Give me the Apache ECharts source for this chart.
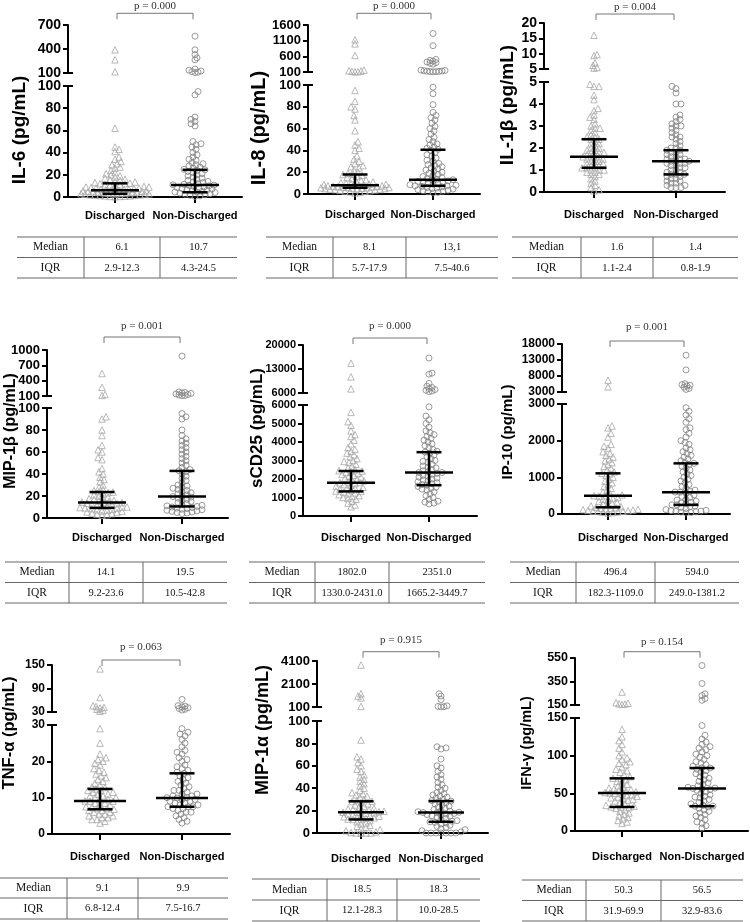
<!DOCTYPE html>
<html>
<head>
<meta charset="utf-8">
<script src="https://cdn.jsdelivr.net/npm/echarts@6/dist/echarts.min.js"></script>
<style>
  html, body { margin: 0; padding: 0; background: #fff; }
  #chart { width: 750px; height: 922px; }
</style>
</head>
<body>
<div id="chart"></div>
<script>
// ---- data ----
const groups = ['Discharged', 'Non-Discharged'];
const titles = ['IL-6 (pg/mL)', 'IL-8 (pg/mL)', 'IL-1β (pg/mL)', 'MIP-1β (pg/mL)', 'sCD25 (pg/mL)',
  'IP-10 (pg/mL)', 'TNF-α (pg/mL)', 'MIP-1α (pg/mL)', 'IFN-γ (pg/mL)'];
const pValues = ['0.000', '0.000', '0.004', '0.001', '0.000', '0.001', '0.063', '0.915', '0.154'];
const breaks = [100, 100, 5, 100, 6000, 3000, 30, 100, 150];
const upperTicks = [
  [100, 400, 700], [100, 600, 1100, 1600], [5, 10, 15, 20], [100, 400, 700, 1000], [6000, 13000, 20000],
  [3000, 8000, 13000, 18000], [30, 90, 150], [100, 2100, 4100], [150, 350, 550]
];
const lowerTicks = [
  [0, 20, 40, 60, 80, 100], [0, 20, 40, 60, 80, 100], [0, 1, 2, 3, 4, 5], [0, 20, 40, 60, 80, 100],
  [0, 1000, 2000, 3000, 4000, 5000, 6000], [0, 1000, 2000, 3000], [0, 10, 20, 30], [0, 20, 40, 60, 80, 100],
  [0, 50, 100, 150]
];
const medianLabels = [
  ['6.1', '10.7'], ['8.1', '13,1'], ['1.6', '1.4'], ['14.1', '19.5'], ['1802.0', '2351.0'],
  ['496.4', '594.0'], ['9.1', '9.9'], ['18.5', '18.3'], ['50.3', '56.5']
];
const iqrLabels = [
  ['2.9-12.3', '4.3-24.5'], ['5.7-17.9', '7.5-40.6'], ['1.1-2.4', '0.8-1.9'], ['9.2-23.6', '10.5-42.8'],
  ['1330.0-2431.0', '1665.2-3449.7'], ['182.3-1109.0', '249.0-1381.2'], ['6.8-12.4', '7.5-16.7'],
  ['12.1-28.3', '10.0-28.5'], ['31.9-69.9', '32.9-83.6']
];

const il6Discharged = [390, 265, 115, 62, 45, 43, 41, 36, 34, 32, 30, 29, 27, 26, 24, 22, 21, 20, 19, 18, 17, 16, 15.5, 15, 14, 13.5, 13, 12.5, 12, 12, 11, 11, 10.5, 10, 9.5, 9, 9, 8.5, 8, 8, 7.5, 7, 7, 6.5, 6.5, 6.1, 6, 6, 5.5, 5.5, 5, 5, 4.8, 4.5, 4.3, 4, 4, 3.8, 3.5, 3.3, 3, 3, 2.9, 2.8, 2.5, 2.3, 2, 2, 1.8, 1.5, 1.3, 1, 1, 0.8, 0.5, 0.5, 0.3];
const il6NonDischarged = [560, 390, 330, 290, 265, 150, 135, 125, 118, 110, 105, 95, 92, 72, 70, 68, 66, 64, 50, 48, 47, 45, 43, 40, 38, 36, 34, 33, 31, 30, 29, 28, 27, 26, 25, 24.5, 24, 23, 22, 21, 20, 19, 18, 17, 16, 15, 14, 13.5, 13, 12, 11.5, 11, 10.7, 10.5, 10, 9.5, 9, 8.5, 8, 7.5, 7, 6.5, 6, 5.5, 5, 4.5, 4.3, 4, 3.5, 3, 2.5, 2, 1.5, 1, 0.5];
const il8Discharged = [1130, 1000, 630, 160, 140, 130, 120, 110, 105, 95, 85, 80, 78, 72, 68, 58, 48, 45, 42, 40, 35, 32, 30, 28, 26, 25, 24, 22, 20, 19, 18, 17.9, 17, 16, 15, 14, 13, 12.5, 12, 11, 10.5, 10, 9.5, 9, 9, 8.5, 8.1, 8, 8, 7.5, 7.5, 7, 7, 6.8, 6.5, 6.3, 6, 6, 5.8, 5.7, 5.5, 5.3, 5, 5, 4.8, 4.5, 4.2, 4, 3.8, 3.5, 3, 2.8, 2.5, 2, 1.5, 1];
const il8NonDischarged = [1330, 940, 500, 470, 450, 420, 400, 380, 350, 160, 150, 140, 130, 125, 120, 115, 110, 105, 98, 92, 82, 75, 72, 70, 68, 65, 62, 60, 58, 55, 52, 50, 48, 46, 45, 43, 42, 41, 40, 38, 36, 35, 33, 31, 30, 28, 27, 26, 25, 24, 23, 22, 21, 20, 19, 18, 17, 16, 15, 14, 13.5, 13.1, 13, 12, 11.5, 11, 10.5, 10, 9.5, 9, 8.5, 8, 7.5, 7.5, 7, 6.5, 6, 5.5, 5, 4.5, 4, 3.5, 3, 2.5, 2, 1.5, 1];
const il1bDischarged = [16, 9.7, 9.4, 7, 6.2, 5.5, 5.3, 4.9, 4.8, 4.8, 4.4, 4.2, 3.8, 3.7, 3.5, 3.4, 3.3, 3.1, 3.0, 2.9, 2.9, 2.8, 2.7, 2.6, 2.5, 2.5, 2.4, 2.4, 2.3, 2.2, 2.2, 2.1, 2.0, 2.0, 1.9, 1.9, 1.8, 1.8, 1.8, 1.7, 1.7, 1.6, 1.6, 1.6, 1.5, 1.5, 1.5, 1.4, 1.4, 1.3, 1.3, 1.3, 1.2, 1.2, 1.1, 1.1, 1.1, 1.0, 1.0, 1.0, 0.9, 0.9, 0.8, 0.8, 0.7, 0.6, 0.5, 0.4, 0.3, 0.2, 0.1, 0.05];
const il1bNonDischarged = [4.8, 4.7, 4.5, 4.0, 4.0, 3.5, 3.4, 3.3, 3.2, 3.1, 3.0, 3.0, 2.9, 2.8, 2.7, 2.6, 2.5, 2.5, 2.4, 2.3, 2.2, 2.1, 2.0, 2.0, 1.9, 1.9, 1.8, 1.8, 1.7, 1.7, 1.6, 1.6, 1.5, 1.5, 1.5, 1.4, 1.4, 1.4, 1.3, 1.3, 1.3, 1.2, 1.2, 1.1, 1.1, 1.0, 1.0, 0.9, 0.9, 0.8, 0.8, 0.8, 0.7, 0.7, 0.6, 0.6, 0.5, 0.5, 0.4, 0.4, 0.3, 0.3, 0.2, 0.2, 0.2];
const mip1bDischarged = [540, 270, 130, 110, 92, 90, 80, 75, 66, 62, 60, 55, 53, 45, 42, 40, 37, 35, 33, 30, 28, 26, 25, 24, 23.6, 23, 22, 21, 20, 19, 18, 17.5, 17, 16, 15.5, 15, 14.5, 14.1, 14, 13.5, 13, 12.5, 12, 11.5, 11, 10.5, 10, 10, 9.5, 9.2, 9, 8.5, 8, 7.5, 7, 6.5, 6, 5.5, 5, 4.5, 4, 3.5, 3, 2.5];
const mip1bNonDischarged = [880, 180, 170, 160, 150, 140, 130, 120, 110, 105, 95, 92, 90, 80, 75, 72, 70, 68, 66, 64, 62, 60, 58, 56, 54, 52, 50, 48, 46, 44, 43, 42, 40, 38, 36, 34, 32, 30, 29, 28, 27, 26, 25, 24, 23, 22, 21, 20, 19.5, 19, 18, 17, 16, 15, 14, 13, 12, 11.5, 11, 10.5, 10, 9.5, 9, 8.5, 8, 7.5, 7, 6.5, 6, 5.5, 5, 4.5, 4];
const scd25Discharged = [14700, 10700, 7200, 5600, 5100, 4900, 4600, 4400, 4300, 4100, 3900, 3700, 3600, 3500, 3400, 3300, 3200, 3100, 3000, 2950, 2900, 2800, 2700, 2600, 2500, 2450, 2430, 2400, 2350, 2300, 2250, 2200, 2150, 2100, 2050, 2000, 1950, 1900, 1850, 1800, 1800, 1750, 1700, 1650, 1600, 1550, 1500, 1500, 1450, 1400, 1350, 1330, 1300, 1250, 1200, 1150, 1100, 1050, 1000, 950, 900, 800, 700, 600, 500];
const scd25NonDischarged = [16200, 11800, 11500, 8800, 8000, 7600, 7300, 7000, 6800, 6600, 6400, 5900, 5400, 5200, 5000, 4800, 4600, 4500, 4400, 4300, 4200, 4100, 4000, 3900, 3800, 3700, 3600, 3500, 3450, 3400, 3300, 3200, 3100, 3000, 2950, 2900, 2800, 2700, 2650, 2600, 2500, 2450, 2400, 2350, 2350, 2300, 2250, 2200, 2150, 2100, 2050, 2000, 1950, 1900, 1850, 1800, 1750, 1700, 1665, 1600, 1550, 1500, 1450, 1400, 1300, 1200, 1100, 1000, 900, 800, 750, 700, 650];
const ip10Discharged = [6700, 4600, 2400, 2350, 2200, 2100, 1900, 1850, 1800, 1700, 1650, 1600, 1550, 1500, 1450, 1400, 1350, 1300, 1250, 1200, 1150, 1109, 1100, 1050, 1000, 950, 900, 850, 800, 750, 700, 650, 600, 560, 520, 500, 496, 480, 450, 420, 400, 380, 350, 320, 300, 280, 250, 220, 200, 182, 170, 160, 150, 140, 130, 120, 110, 100, 90, 80, 75, 70, 60, 50, 40, 30];
const ip10NonDischarged = [14500, 9900, 5600, 5300, 5100, 4900, 4500, 4100, 3800, 2900, 2800, 2700, 2600, 2500, 2350, 2300, 2200, 2100, 2000, 1950, 1900, 1800, 1750, 1700, 1650, 1600, 1550, 1500, 1450, 1400, 1381, 1350, 1300, 1250, 1200, 1150, 1100, 1050, 1000, 950, 900, 850, 800, 750, 700, 650, 620, 600, 594, 560, 520, 480, 450, 400, 380, 350, 320, 300, 280, 250, 249, 220, 200, 180, 150, 120, 100, 90, 80, 70, 60, 50, 40, 30];
const tnfaDischarged = [140, 67, 46, 44, 42, 40, 37, 35, 32, 29, 25, 22, 21, 20.5, 20, 19.5, 19, 18, 17.5, 17, 16.5, 16, 15.5, 15, 14.5, 14, 13.5, 13, 12.8, 12.4, 12, 12, 11.5, 11.5, 11, 11, 10.5, 10.5, 10, 10, 9.5, 9.5, 9.1, 9, 9, 8.5, 8.5, 8, 8, 7.5, 7.5, 7, 7, 6.8, 6.5, 6.5, 6, 6, 5.5, 5.5, 5, 5, 4.5, 4.5, 4, 4, 3.5, 3];
const tnfaNonDischarged = [62, 46, 45, 43, 41, 39, 37, 35, 29, 28, 27.5, 27, 26, 25, 24, 23, 22.5, 22, 21, 20.5, 20, 19, 18.5, 18, 17.5, 17, 16.7, 16, 15.5, 15, 14.5, 14, 13.5, 13, 12.5, 12, 12, 11.5, 11, 11, 10.5, 10.5, 10, 10, 9.9, 9.5, 9.5, 9, 9, 8.5, 8.5, 8, 8, 7.5, 7.5, 7.5, 7, 7, 6.5, 6, 6, 5.5, 5, 4.5, 4, 3.5, 3];
const mip1aDischarged = [3750, 1250, 1050, 900, 150, 83, 68, 66, 63, 60, 57, 55, 52, 50, 48, 46, 44, 42, 40, 38, 36, 35, 34, 33, 32, 30, 29, 28.3, 28, 27, 26, 25, 24, 23, 22, 21.5, 21, 20.5, 20, 19.5, 19, 18.5, 18.5, 18, 17.5, 17, 16.5, 16, 15.5, 15, 14.5, 14, 13.5, 13, 12.5, 12.1, 12, 11, 10, 9, 8, 7, 6, 5, 4, 3, 2, 1, 0.5, 0, 0, 0, 0];
const mip1aNonDischarged = [1250, 1050, 750, 200, 150, 130, 110, 77, 76, 75, 66, 60, 58, 55, 52, 50, 48, 45, 43, 41, 40, 38, 36, 35, 34, 33, 32, 31, 30, 29, 28.5, 28, 27, 26, 25, 24, 23, 22, 21, 20, 19.5, 19, 18.5, 18.3, 18, 17.5, 17, 16.5, 16, 15.5, 15, 14, 13, 12, 11, 10.5, 10, 9.5, 9, 8, 7, 6, 5, 4, 3, 2, 1, 0, 0, 0, 0, 0, 0, 0];
const ifngDischarged = [260, 170, 165, 160, 158, 155, 135, 125, 120, 115, 110, 105, 100, 97, 95, 92, 90, 88, 85, 82, 80, 78, 75, 72, 70, 69.9, 68, 66, 64, 62, 60, 58, 57, 56, 55, 54, 53, 52, 51, 50.3, 50, 49, 48, 47, 46, 45, 44, 43, 42, 41, 40, 38, 36, 34, 33, 32, 31.9, 31, 30, 28, 26, 24, 22, 20, 18, 16, 14, 12, 10];
const ifngNonDischarged = [486, 333, 245, 230, 205, 190, 140, 127, 122, 118, 115, 112, 110, 108, 105, 102, 100, 98, 95, 92, 90, 88, 86, 84, 83.6, 82, 80, 78, 76, 74, 72, 70, 68, 66, 64, 62, 60, 58, 57, 56.5, 56, 55, 54, 52, 50, 48, 46, 45, 44, 42, 40, 38, 36, 34, 33, 32.9, 32, 30, 28, 26, 24, 22, 20, 18, 15, 12, 10, 7, 4];

const panelValues = [
  [il6Discharged, il6NonDischarged], [il8Discharged, il8NonDischarged], [il1bDischarged, il1bNonDischarged],
  [mip1bDischarged, mip1bNonDischarged], [scd25Discharged, scd25NonDischarged], [ip10Discharged, ip10NonDischarged],
  [tnfaDischarged, tnfaNonDischarged], [mip1aDischarged, mip1aNonDischarged], [ifngDischarged, ifngNonDischarged]
];

// ---- layout (pixels) ----
// L/R: y-axis x and x-axis end, uT/uB: upper segment, lT/lB: lower segment, g0/g1: group centres
const layout = [
  {L: 68, R: 242, uT: 25, uB: 73, lT: 86, lB: 197, g0: 115, g1: 195, pY: 6.5, bY: 13.3, tX: 20, tY: 130, tS: 19, fS: 14, xM: 13, mw: 24, tb: [17, 84, 160, 237, 237, 257.5, 278]},
  {L: 308, R: 480, uT: 25, uB: 72, lT: 85, lB: 194, g0: 355, g1: 433, pY: 6.5, bY: 13.3, tX: 259, tY: 128, tS: 20, fS: 13, xM: 15, mw: 24, tb: [266, 333, 406, 498, 237, 257.5, 278]},
  {L: 544, R: 725, uT: 23, uB: 69, lT: 82, lB: 192, g0: 594, g1: 676, pY: 7, bY: 14, tX: 508, tY: 105, tS: 19, fS: 14, xM: 17, mw: 24, tb: [512, 581, 653, 738, 237, 257.5, 278]},
  {L: 47, R: 228, uT: 350, uB: 396, lT: 408, lB: 518, g0: 102, g1: 182, pY: 326, bY: 337, tX: 11, tY: 431, tS: 16, fS: 13, xM: 14, mw: 24, tb: [5, 69, 143, 227, 562, 582.5, 603]},
  {L: 303, R: 477, uT: 345, uB: 393, lT: 405, lB: 516, g0: 351, g1: 429, pY: 326.5, bY: 338, tX: 257, tY: 428, tS: 17, fS: 11, xM: 16, mw: 24, tb: [249, 315, 389, 485, 562, 582.5, 603]},
  {L: 562, R: 730, uT: 344, uB: 392, lT: 404, lB: 514, g0: 608, g1: 686, pY: 327, bY: 341, tX: 508, tY: 432, tS: 15, fS: 12, xM: 18, mw: 24, tb: [510, 576, 655, 739, 562, 582.5, 603]},
  {L: 52, R: 230, uT: 665, uB: 712, lT: 725, lB: 834, g0: 100, g1: 182, pY: 647.5, bY: 660, tX: 9, tY: 733, tS: 16.5, fS: 12, xM: 17, mw: 26, tb: [0, 67, 138, 228, 878, 898, 919]},
  {L: 317, R: 488, uT: 661, uB: 707, lT: 721, lB: 833, g0: 361, g1: 441, pY: 640.5, bY: 651.7, tX: 263, tY: 730, tS: 18, fS: 13, xM: 20, mw: 23, tb: [252, 327, 397, 480, 879, 900, 921]},
  {L: 575, R: 748, uT: 658, uB: 705, lT: 718, lB: 831, g0: 622, g1: 702, pY: 642.5, bY: 651.7, tX: 527, tY: 743, tS: 14.5, fS: 12.5, xM: 20, mw: 24, tb: [522, 586, 661, 743, 880, 900.5, 921]}
];

const SANS = "'Liberation Sans', Arial, sans-serif";
const SERIF = "'Liberation Serif', 'Times New Roman', serif";
const DIAM_LOW = 4.4;  // preferred spacing of symbols in the main segment, px
const DIAM_UP = 2.8;   // tighter spacing in the compressed upper segment
const HALF = 34;       // widest horizontal spread either side of a group, px
const markers = [
  {symbol: 'triangle', color: '#a8a8a8', size: 6.5},
  {symbol: 'circle', color: '#828282', size: 6}
];

// beeswarm: horizontal offset of each point (layout only); where it is crowded,
// take the spot with the most clearance inside the allowed width
function swarm(vals, pxPerVal, pxPerX, diam) {
  const order = vals.map((v, i) => i).sort((a, b) => vals[a] - vals[b]);
  const placed = [];
  const xs = new Array(vals.length);
  order.forEach((i, n) => {
    const y = vals[i] * pxPerVal;
    const near = placed.filter(p => Math.abs(p.y - y) < diam);
    let best = 0, bestScore = -1;
    for (let s = 0; s <= 2 * HALF; s++) {
      const mag = Math.floor((s + 1) / 2);
      const c = s === 0 ? 0 : ((s % 2 === n % 2) ? mag : -mag);
      let score = diam;
      for (const p of near) {
        const d = Math.hypot(p.x - c, p.y - y);
        if (d < score) score = d;
      }
      if (score > bestScore + 1e-6) { bestScore = score; best = c; }
      if (bestScore >= diam) break;
    }
    placed.push({x: best, y});
    xs[i] = best / pxPerX;
  });
  return xs;
}

const grids = [], xAxes = [], yAxes = [], series = [], graphics = [];

layout.forEach((lay, k) => {
  const up = upperTicks[k], lo = lowerTicks[k];
  const brk = breaks[k];
  const dx = lay.g1 - lay.g0;
  const xMin = (lay.L - lay.g0) / dx, xMax = (lay.R - lay.g0) / dx;
  const upMin = up[0], upMax = up[up.length - 1], loMax = lo[lo.length - 1];
  const q = iqrLabels[k].map(s => s.split('-').map(Number));
  const med = medianLabels[k].map(s => Number(s.replace(',', '.')));

  grids.push(
    {left: lay.L, top: lay.uT, width: lay.R - lay.L, height: lay.uB - lay.uT, outerBoundsMode: 'none'},
    {left: lay.L, top: lay.lT, width: lay.R - lay.L, height: lay.lB - lay.lT, outerBoundsMode: 'none'}
  );
  const yBase = {
    type: 'value',
    splitLine: {show: false},
    axisLine: {show: true, onZero: false, lineStyle: {color: '#000', width: 2}},
    axisTick: {show: true, length: 5, lineStyle: {color: '#000', width: 2}},
    axisLabel: {color: '#000', fontFamily: SANS, fontWeight: 'bold', fontSize: lay.fS, margin: 7, formatter: v => String(v)}
  };
  yAxes.push(
    Object.assign({}, yBase, {gridIndex: 2 * k, min: upMin, max: upMax,
      axisTick: Object.assign({}, yBase.axisTick, {customValues: up}),
      axisLabel: Object.assign({}, yBase.axisLabel, {customValues: up})}),
    Object.assign({}, yBase, {gridIndex: 2 * k + 1, min: 0, max: loMax,
      axisTick: Object.assign({}, yBase.axisTick, {customValues: lo}),
      axisLabel: Object.assign({}, yBase.axisLabel, {customValues: lo})})
  );
  xAxes.push(
    {type: 'value', gridIndex: 2 * k, min: xMin, max: xMax, show: false},
    {type: 'value', gridIndex: 2 * k + 1, min: xMin, max: xMax, splitLine: {show: false},
      axisLine: {show: true, onZero: false, lineStyle: {color: '#000', width: 2}},
      axisTick: {show: true, length: 6, customValues: [0, 1], lineStyle: {color: '#000', width: 2}},
      axisLabel: {customValues: [0, 1], formatter: v => groups[Math.round(v)], color: '#000',
        fontFamily: SANS, fontWeight: 'bold', fontSize: 11, margin: lay.xM}}
  );

  const upPx = (lay.uB - lay.uT) / (upMax - upMin);
  const loPx = (lay.lB - lay.lT) / loMax;
  [0, 1].forEach(g => {
    const vals = panelValues[k][g];
    const hi = vals.filter(v => v > brk), low = vals.filter(v => v <= brk);
    const hiX = swarm(hi, upPx, dx, DIAM_UP), lowX = swarm(low, loPx, dx, DIAM_LOW);
    const m = markers[g];
    const style = {color: 'rgba(0,0,0,0)', borderColor: m.color, borderWidth: 1};
    series.push(
      {type: 'scatter', xAxisIndex: 2 * k, yAxisIndex: 2 * k, symbol: m.symbol, symbolSize: m.size,
        itemStyle: style, data: hi.map((v, i) => [g + hiX[i], v]), silent: true, clip: false},
      {type: 'scatter', xAxisIndex: 2 * k + 1, yAxisIndex: 2 * k + 1, symbol: m.symbol, symbolSize: m.size,
        itemStyle: style, data: low.map((v, i) => [g + lowX[i], v]), silent: true, clip: false}
    );
  });

  // median with interquartile range
  series.push({
    type: 'custom', xAxisIndex: 2 * k + 1, yAxisIndex: 2 * k + 1, z: 10, silent: true, clip: false,
    data: [0, 1].map(g => [g, q[g][0], med[g], q[g][1]]),
    renderItem(params, api) {
      const pm = api.coord([api.value(0), api.value(2)]);
      const pl = api.coord([api.value(0), api.value(1)]);
      const ph = api.coord([api.value(0), api.value(3)]);
      const st = {stroke: '#000', lineWidth: 2.5};
      const cap = 12.5;
      return {type: 'group', children: [
        {type: 'line', shape: {x1: pm[0] - lay.mw, y1: pm[1], x2: pm[0] + lay.mw, y2: pm[1]}, style: st},
        {type: 'line', shape: {x1: pl[0], y1: pl[1], x2: ph[0], y2: ph[1]}, style: st},
        {type: 'line', shape: {x1: pl[0] - cap, y1: pl[1], x2: pl[0] + cap, y2: pl[1]}, style: st},
        {type: 'line', shape: {x1: ph[0] - cap, y1: ph[1], x2: ph[0] + cap, y2: ph[1]}, style: st}
      ]};
    }
  });

  // axis title
  graphics.push({type: 'text', x: lay.tX, y: lay.tY, rotation: Math.PI / 2,
    style: {text: titles[k], font: `bold ${lay.tS}px ${SANS}`, fill: '#000', align: 'center', verticalAlign: 'middle'}});
  // significance bracket
  const bx0 = lay.g0 + 2, bx1 = lay.g1 - 2;
  graphics.push({type: 'polyline', shape: {points: [[bx0, lay.bY + 6], [bx0, lay.bY], [bx1, lay.bY], [bx1, lay.bY + 6]]},
    style: {stroke: '#777', lineWidth: 1, fill: null}});
  graphics.push({type: 'text', x: (lay.g0 + lay.g1) / 2, y: lay.pY,
    style: {text: 'p = ' + pValues[k], font: `11px ${SERIF}`, fill: '#333', align: 'center', verticalAlign: 'middle'}});
  // axis break marks
  [lay.uB, lay.lT].forEach(y => graphics.push({type: 'line', shape: {x1: lay.L - 5, y1: y, x2: lay.L + 5, y2: y},
    style: {stroke: '#000', lineWidth: 2}}));

  // table
  const [x0, d1, d2, x1, y0, y1, y2] = lay.tb;
  [y0, y1, y2].forEach(y => graphics.push({type: 'line', shape: {x1: x0, y1: y, x2: x1, y2: y},
    style: {stroke: '#666', lineWidth: 1}}));
  [d1, d2].forEach(x => graphics.push({type: 'line', shape: {x1: x, y1: y0, x2: x, y2: y2},
    style: {stroke: '#666', lineWidth: 1}}));
  const cx = [(x0 + d1) / 2, (d1 + d2) / 2, (d2 + x1) / 2];
  const rows = [['Median'].concat(medianLabels[k]), ['IQR'].concat(iqrLabels[k])];
  rows.forEach((row, r) => {
    const cy = r === 0 ? (y0 + y1) / 2 : (y1 + y2) / 2;
    row.forEach((t, c) => graphics.push({type: 'text', x: cx[c], y: cy,
      style: {text: t, font: `${c === 0 ? 11.5 : 10.5}px ${SERIF}`, fill: '#111', align: 'center', verticalAlign: 'middle'}}));
  });
});

const chart = echarts.init(document.getElementById('chart'), null, {renderer: 'canvas'});
chart.setOption({
  animation: false,
  backgroundColor: '#fff',
  grid: grids,
  xAxis: xAxes,
  yAxis: yAxes,
  series: series,
  graphic: graphics
});
</script>
</body>
</html>
